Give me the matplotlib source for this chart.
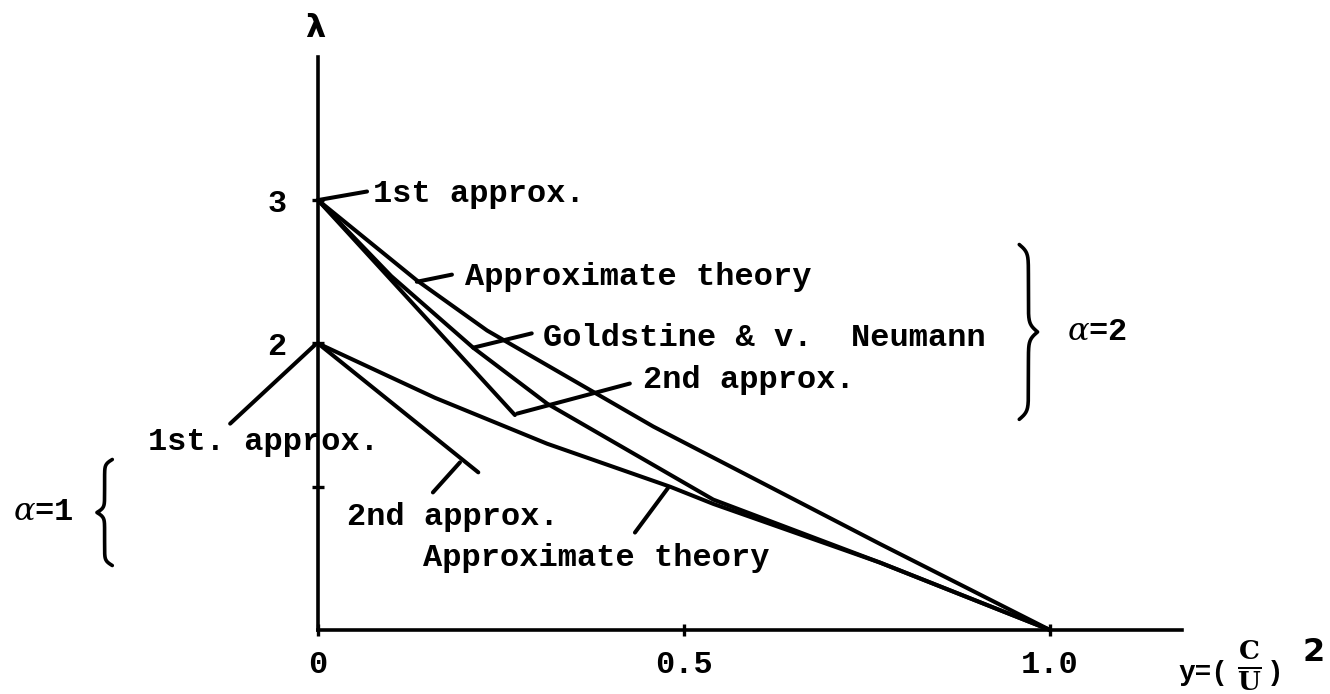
import numpy as np
import matplotlib.pyplot as plt

# typewriter look
plt.rcParams['font.family'] = ['Liberation Mono', 'DejaVu Sans']
plt.rcParams['mathtext.fontset'] = 'dejavuserif'

# ---- data (x = y=(C/U)^2, value = lambda) ----
# alpha = 2
a2_theory_x = [0.0, 0.135, 0.231, 0.458, 0.768, 1.0]
a2_theory_l = [3.0, 2.44, 2.09, 1.42, 0.60, 0.0]

a2_gold_x = [0.0, 0.10, 0.212, 0.313, 0.540, 0.768, 1.0]
a2_gold_l = [3.0, 2.47, 1.97, 1.58, 0.91, 0.47, 0.0]

a2_second_x = [0.0, 0.269]
a2_second_l = [3.0, 1.50]

# alpha = 1
a1_theory_x = [0.0, 0.160, 0.313, 0.481, 0.540, 0.768, 1.0]
a1_theory_l = [2.0, 1.62, 1.30, 1.00, 0.88, 0.47, 0.0]

a1_second_x = [0.0, 0.219]
a1_second_l = [2.0, 1.10]

x_ticks = [0.0, 0.5, 1.0]
x_tick_labels = ['0', '0.5', '1.0']
y_ticks = [1.0, 2.0, 3.0]
y_tick_labels = ['', '2', '3']

# (text, text x, text lambda, leader from, leader to)
labels = [
    ('1st approx.', 0.075, 3.04, (0.0, 3.0), (0.067, 3.06)),
    ('Approximate theory', 0.201, 2.46, (0.135, 2.43), (0.183, 2.48)),
    ('Goldstine & v.  Neumann', 0.307, 2.04, (0.212, 1.97), (0.292, 2.07)),
    ('2nd approx.', 0.444, 1.745, (0.272, 1.51), (0.426, 1.72)),
    ('1st. approx.', -0.232, 1.31, (-0.004, 1.99), (-0.120, 1.44)),
    ('2nd approx.', 0.040, 0.79, (0.194, 1.17), (0.157, 0.96)),
    ('Approximate theory', 0.143, 0.50, (0.478, 0.99), (0.433, 0.68)),
]

LW = 2.9
FS = 23


def brace(ax, x, y0, y1, w, sign=1, lw=2.6):
    # curly brace drawn from two sigmoids
    t = np.linspace(0, 0.5, 120)
    b = 45
    h = 1/(1+np.exp(-b*(t-t[0]))) + 1/(1+np.exp(-b*(t-t[-1])))
    h = np.concatenate((h, h[-2::-1])) - 0.5
    ys = np.linspace(y0, y1, len(h))
    ax.plot(x + sign*w*h, ys, color='black', lw=lw, solid_capstyle='round')


fig = plt.figure(figsize=(13.3, 6.94), dpi=100)
ax = fig.add_axes([0, 0, 1, 1])
ax.set_xlim(-0.4344, 1.3825)
ax.set_ylim(-0.4466, 4.3964)

for xs, ls in [(a2_theory_x, a2_theory_l), (a2_gold_x, a2_gold_l),
               (a2_second_x, a2_second_l), (a1_theory_x, a1_theory_l),
               (a1_second_x, a1_second_l)]:
    ax.plot(xs, ls, color='black', lw=LW, solid_joinstyle='round',
            solid_capstyle='round')

for txt, tx, ty, p0, p1 in labels:
    ax.plot([p0[0], p1[0]], [p0[1], p1[1]], color='black', lw=LW,
            solid_capstyle='round')
    ax.text(tx, ty, txt, fontsize=FS, fontweight='bold', va='center',
            ha='left')

# axes drawn as spines through the origin
for s in ['top', 'right']:
    ax.spines[s].set_visible(False)
ax.spines['left'].set_position(('data', 0))
ax.spines['bottom'].set_position(('data', 0))
ax.spines['left'].set_bounds(0, 4.0)
ax.spines['bottom'].set_bounds(0, 1.18)
ax.spines['left'].set_linewidth(2.6)
ax.spines['bottom'].set_linewidth(2.6)

ax.set_xticks(x_ticks, x_tick_labels)
ax.set_yticks(y_ticks, y_tick_labels)
ax.tick_params(axis='both', direction='inout', length=9, width=2.4,
               labelsize=FS)
ax.tick_params(axis='x', pad=10)
ax.tick_params(axis='y', pad=18)
for lab in ax.get_xticklabels() + ax.get_yticklabels():
    lab.set_fontweight('bold')

ax.text(-0.004, 4.20, 'λ', fontsize=FS, fontweight='bold',
        family='DejaVu Sans', ha='center', va='center')

# x-axis name y=(C/U)^2
ax.text(1.176, -0.30, 'y=(', fontsize=FS - 3, fontweight='bold',
        ha='left', va='center')
ax.text(1.255, -0.25, r'$\frac{\mathbf{C}}{\mathbf{U}}$', fontsize=27,
        ha='left', va='center')
ax.text(1.296, -0.30, ')', fontsize=FS - 3, fontweight='bold',
        ha='left', va='center')
ax.text(1.345, -0.16, '2', fontsize=FS, fontweight='bold',
        family='DejaVu Sans', ha='left', va='center')

# alpha groups
brace(ax, 0.958, 2.69, 1.47, 0.025, sign=1)
ax.text(1.023, 2.08, r'$\alpha$=2', fontsize=FS, fontweight='bold',
        va='center', ha='left')
brace(ax, -0.281, 1.19, 0.45, 0.021, sign=-1)
ax.text(-0.417, 0.82, r'$\alpha$=1', fontsize=FS, fontweight='bold',
        va='center', ha='left')

fig.savefig('out.png', dpi=100)
